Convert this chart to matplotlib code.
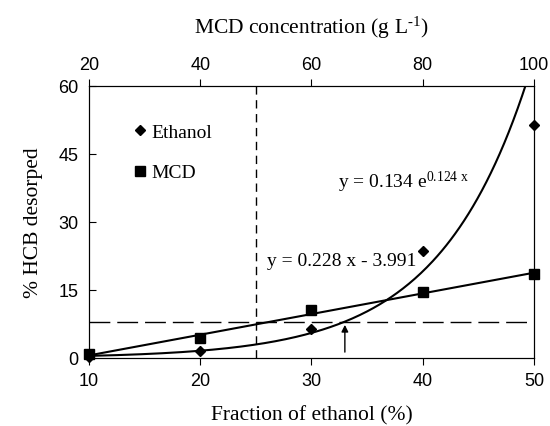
import numpy as np
import matplotlib
matplotlib.use("Agg")
import matplotlib.pyplot as plt
from matplotlib.lines import Line2D

# ── DATA ──────────────────────────────────────────────────────────────────
ethanol_frac = [10, 20, 30, 40, 50]          # % ethanol (bottom axis)
ethanol_hcb = [0.3, 1.5, 6.3, 23.5, 51.5]     # % HCB desorbed with ethanol

mcd_conc = [20, 40, 60, 80, 100]              # g/L MCD (top axis)
mcd_hcb = [0.8, 4.5, 10.5, 14.5, 18.5]        # % HCB desorbed with MCD

exp_a, exp_b = 0.134, 0.124                   # y = a e^(b x), x = ethanol %
lin_m, lin_c = 0.228, -3.991                  # y = m x + c, x = MCD g/L

threshold_y = 8.0                             # horizontal reference level
mcd_ref = 50                                  # vertical reference (MCD g/L)
arrow_x = 33                                  # ethanol % marked by arrow

x_ticks = [10, 20, 30, 40, 50]
top_ticks = [20, 40, 60, 80, 100]
y_ticks = [0, 15, 30, 45, 60]

# ── STYLE ─────────────────────────────────────────────────────────────────
plt.rcParams.update({
    "font.family": "Liberation Serif",
    "mathtext.fontset": "custom",
    "mathtext.rm": "Liberation Serif",
    "mathtext.it": "Liberation Serif:italic",
    "mathtext.default": "regular",
    "axes.linewidth": 0.8,
})
tick_font = {"family": "Liberation Sans", "size": 13}

fig = plt.figure(figsize=(5.5, 4.27), dpi=100)
ax = fig.add_axes([0.1618, 0.1593, 0.8091, 0.637])
ax_top = ax.twiny()

# ── CURVES & POINTS ───────────────────────────────────────────────────────
xe = np.linspace(10, 50, 300)
ax.plot(xe, exp_a * np.exp(exp_b * xe), color="black", lw=1.5, zorder=3)
ax.plot(ethanol_frac, ethanol_hcb, linestyle="none", marker="D",
        markersize=5.5, color="black", zorder=4, clip_on=False)

xm = np.array([mcd_conc[0], mcd_conc[-1]])
ax_top.plot(xm, lin_m * xm + lin_c, color="black", lw=1.5, zorder=3)
ax_top.plot(mcd_conc, mcd_hcb, linestyle="none", marker="s",
            markersize=6.5, color="black", zorder=4, clip_on=False)

# reference lines
ax.plot([x_ticks[0], 49.6], [threshold_y, threshold_y], color="black",
        lw=1.0, dashes=(15, 5))
ax_top.axvline(mcd_ref, color="black", lw=1.0, dashes=(6, 4))
ax.annotate("", xy=(arrow_x, 7.3), xytext=(arrow_x, 1.3),
            arrowprops=dict(arrowstyle="-|>", color="black", lw=1.0,
                            mutation_scale=10, shrinkA=0, shrinkB=0))

# equations
ax.text(32.4, 39.0, "y = 0.134 e$^{0.124\\ x}$", fontsize=14,
        ha="left", va="center")
ax.text(26.0, 21.4, "y = 0.228 x - 3.991", fontsize=14,
        ha="left", va="center")

# ── AXES ──────────────────────────────────────────────────────────────────
ax.set_xlim(10, 50)
ax.set_ylim(0, 60)
ax_top.set_xlim(20, 100)

ax.set_xticks(x_ticks)
ax.set_yticks(y_ticks)
ax_top.set_xticks(top_ticks)
for lab in ax.get_xticklabels() + ax.get_yticklabels() + ax_top.get_xticklabels():
    lab.set_fontfamily(tick_font["family"])
    lab.set_fontsize(tick_font["size"])

ax.tick_params(axis="x", direction="out", length=5, width=0.8, pad=5)
ax.tick_params(axis="y", direction="in", length=5, width=0.8, pad=7.5)
ax_top.tick_params(axis="x", direction="out", length=5, width=0.8, pad=4)

ax.set_xlabel("Fraction of ethanol (%)", fontsize=15.5, labelpad=11.5)
ax.set_ylabel("% HCB desorped", fontsize=15.5, labelpad=11)
ax_top.set_xlabel("MCD concentration (g L$^{\u2010 1}$)", fontsize=15.5,
                  labelpad=17)

# ── LEGEND ────────────────────────────────────────────────────────────────
handles = [
    Line2D([], [], linestyle="none", marker="D", markersize=5.5,
           color="black", label="Ethanol"),
    Line2D([], [], linestyle="none", marker="s", markersize=6.5,
           color="black", label="MCD"),
]
ax.legend(handles=handles, loc="upper left", bbox_to_anchor=(0.08, 0.9),
          frameon=False, fontsize=14, handlelength=0.6, handletextpad=0.3,
          labelspacing=1.2, borderpad=0)

fig.savefig("out.png", dpi=100)
